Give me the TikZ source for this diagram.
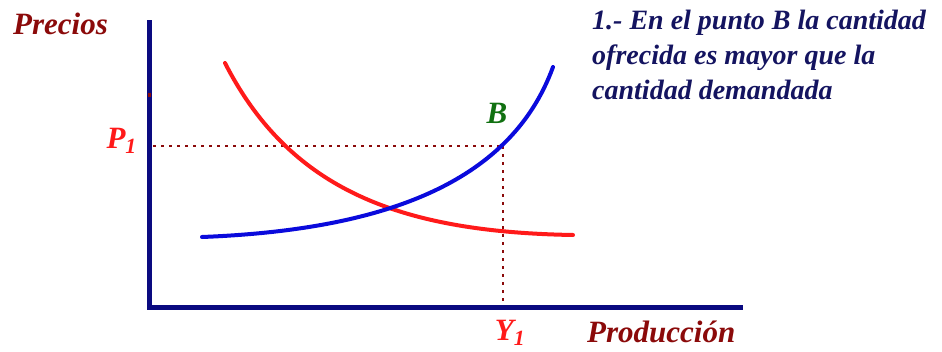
\documentclass[tikz,border=0pt]{standalone}
\usepackage{fontspec}
\setmainfont{Liberation Serif}
\definecolor{darkred}{HTML}{8B0A0A}
\definecolor{navytext}{HTML}{141460}
\definecolor{axisblue}{HTML}{0A0A80}
\definecolor{curvered}{HTML}{FF1A1A}
\definecolor{curveblue}{HTML}{0A0ADC}
\definecolor{bgreen}{HTML}{107010}
\tikzset{
  lbl/.style={inner sep=0pt, font=\bfseries\itshape\fontsize{31}{36}\selectfont},
  axisline/.style={draw=axisblue, line width=5pt},
  guide/.style={draw=darkred, line width=2.5pt, dash pattern=on 2.5pt off 5.5pt},
  curve/.style={line width=4pt, line cap=round}
}
\begin{document}
\begin{tikzpicture}[x=1pt,y=-1pt]
\useasboundingbox (0,0) rectangle (942,351);
% axes
\coordinate (top) at (149,20);
\coordinate (orig) at (149,307);
\coordinate (xend) at (743,307);
\draw[axisline, line join=miter] (top) -- (orig) -- (xend);
\draw[darkred, line width=3pt] (149,93) -- (149,97);
% guides
\coordinate (p1) at (153,146);
\coordinate (bpt) at (503,146);
\coordinate (y1) at (503,301);
\draw[guide] (p1) -- (bpt);
\draw[guide] (bpt) -- (y1);
% demand (red)
\coordinate (d0) at (225,63);
\coordinate (d1) at (573,235);
\draw[curve, curvered] (d0) .. controls (290,190) and (400,232) .. (d1);
% supply (blue)
\coordinate (s0) at (202,237);
\coordinate (s1) at (553,67);
\draw[curve, curveblue] (s0) .. controls (380,230) and (510,185) .. (s1);
% labels
\node[lbl, darkred, anchor=base west] (precios) at (13,34) {Precios};
\node[lbl, curvered, anchor=base east] (plab) at (137,148) {P\textsubscript{1}};
\node[lbl, bgreen, anchor=base] (blab) at (497,123) {B};
\node[lbl, curvered, anchor=base] (ylab) at (510,340) {Y\textsubscript{1}};
\node[lbl, darkred, anchor=base west] (prod) at (587,342) {Producción};
\node[inner sep=0pt, anchor=north west, align=left, navytext, font=\bfseries\itshape\fontsize{28}{35}\selectfont] (note) at (592,10) {1.- En el punto B la cantidad\\ofrecida es mayor que la\\cantidad demandada};
\end{tikzpicture}
\end{document}
